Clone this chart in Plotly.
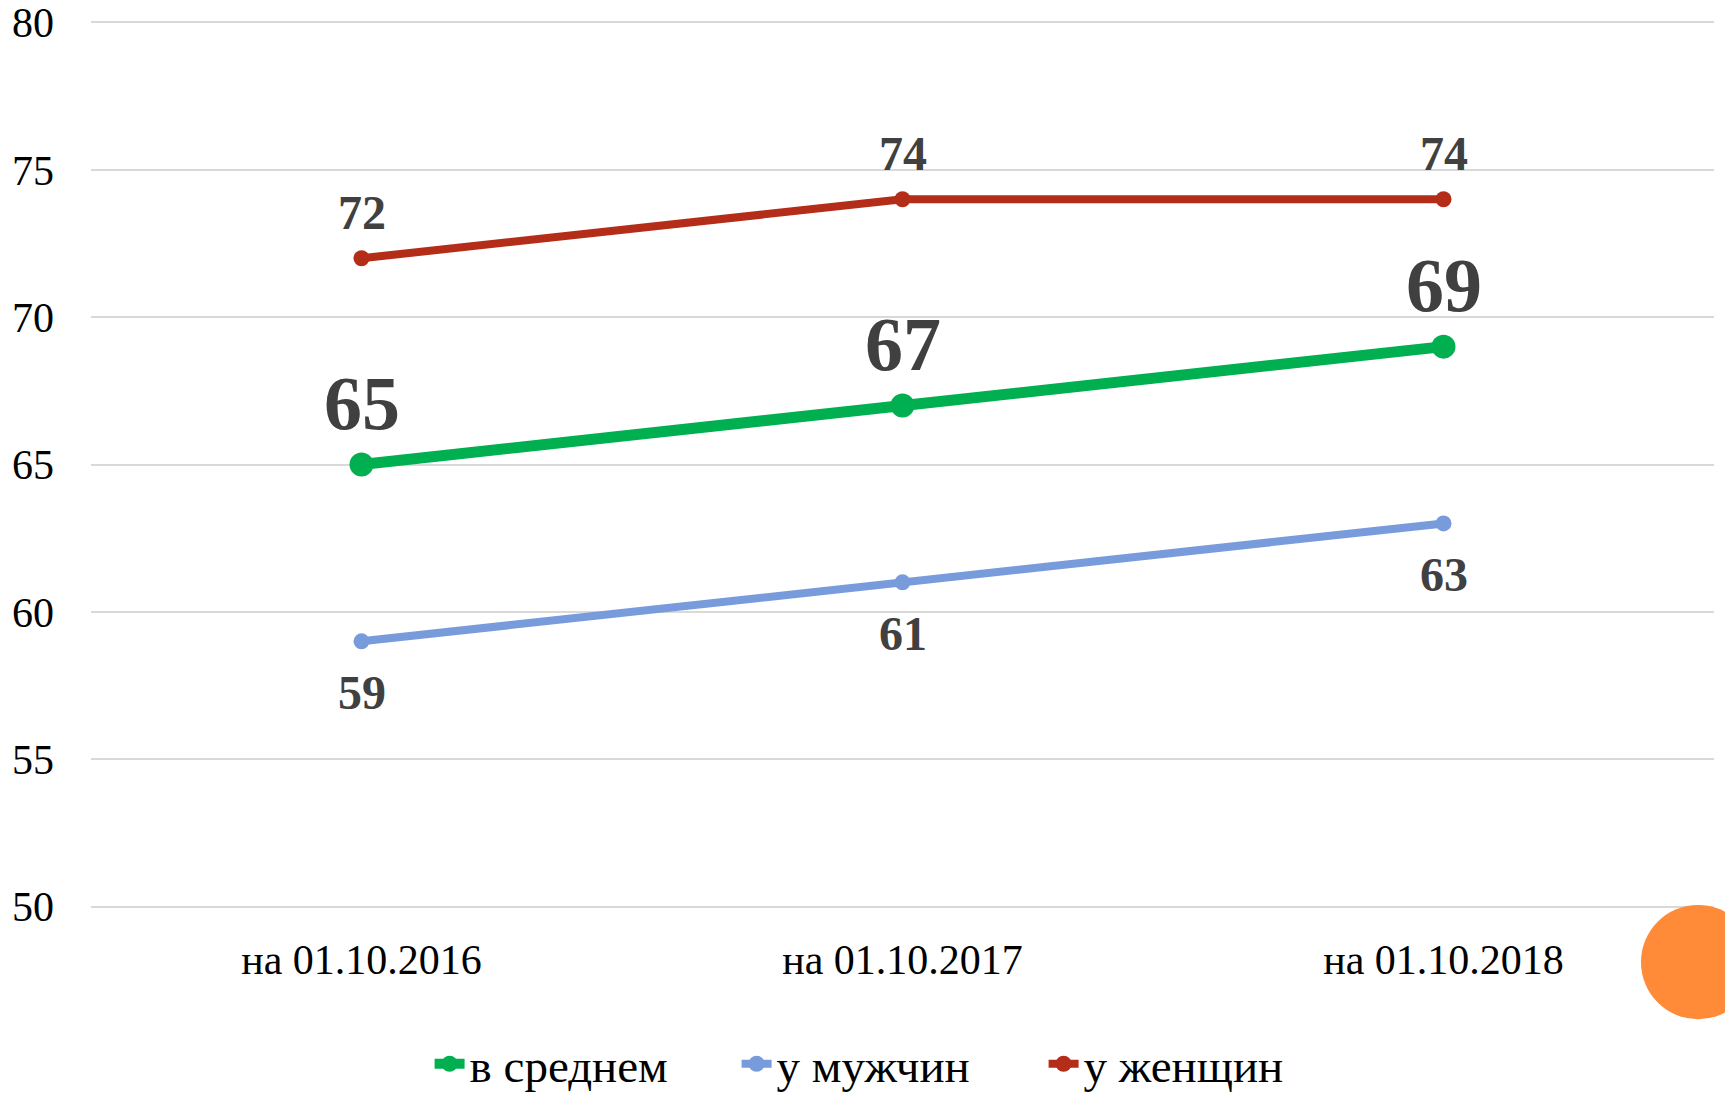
import plotly.graph_objects as go

categories = ["на 01.10.2016", "на 01.10.2017", "на 01.10.2018"]
avg_values = [65, 67, 69]
men_values = [59, 61, 63]
women_values = [72, 74, 74]
series_names = ["в среднем", "у мужчин", "у женщин"]
y_ticks = [50, 55, 60, 65, 70, 75, 80]

GREEN = "#00B050"
BLUE = "#779BDB"
RED = "#B42D19"
LABEL = "#404040"
FONT = "Liberation Serif"

fig = go.Figure()
fig.add_trace(go.Scatter(x=categories, y=avg_values, name=series_names[0], mode="lines+markers",
                         line=dict(color=GREEN, width=11), marker=dict(color=GREEN, size=24)))
fig.add_trace(go.Scatter(x=categories, y=men_values, name=series_names[1], mode="lines+markers",
                         line=dict(color=BLUE, width=8), marker=dict(color=BLUE, size=16)))
fig.add_trace(go.Scatter(x=categories, y=women_values, name=series_names[2], mode="lines+markers",
                         line=dict(color=RED, width=8), marker=dict(color=RED, size=16)))

annotations = []
for c, v in zip(categories, avg_values):
    annotations.append(dict(x=c, y=v, text=str(v), showarrow=False, yshift=62, yanchor="middle",
                            font=dict(family=FONT, size=76, color=LABEL, weight="bold")))
for c, v in zip(categories, women_values):
    annotations.append(dict(x=c, y=v, text=str(v), showarrow=False, yshift=46, yanchor="middle",
                            font=dict(family=FONT, size=48, color=LABEL, weight="bold")))
for c, v in zip(categories, men_values):
    annotations.append(dict(x=c, y=v, text=str(v), showarrow=False, yshift=-51, yanchor="middle",
                            font=dict(family=FONT, size=48, color=LABEL, weight="bold")))

fig.update_layout(
    width=1725, height=1096,
    margin=dict(l=91, r=11, t=21, b=188, autoexpand=False),
    paper_bgcolor="white", plot_bgcolor="white",
    font=dict(family=FONT, size=42, color="#000000"),
    showlegend=True,
    legend=dict(orientation="h", x=0.516, xanchor="center", xref="container",
                y=0.029, yanchor="middle", yref="container",
                entrywidth=262, entrywidthmode="pixels",
                font=dict(family=FONT, size=47, color="#000000"), bgcolor="rgba(0,0,0,0)"),
    annotations=annotations,
    hovermode=False,
    shapes=[dict(type="circle", xref="paper", yref="paper", x0=0.955, x1=1.0254, y0=-0.1254, y1=0.0034,
                 fillcolor="#FF8A38", line=dict(width=0), layer="above")],
)
fig.update_xaxes(type="category", range=[-0.5, 2.5], showgrid=False, zeroline=False, showline=False,
                 automargin=False, ticks="", ticklabelstandoff=23,
                 tickfont=dict(family=FONT, size=42, color="#000000"))
fig.update_yaxes(range=[49.95, 80.05], tickvals=y_ticks, showgrid=True, gridcolor="#D9D9D9", gridwidth=2,
                 zeroline=False, showline=False, automargin=False, ticks="", ticklabelstandoff=36,
                 tickfont=dict(family=FONT, size=42, color="#000000"))

fig.write_html("out.html", config={"displayModeBar": False},
               post_script="document.body.style.margin='0';document.body.style.overflow='hidden';")
